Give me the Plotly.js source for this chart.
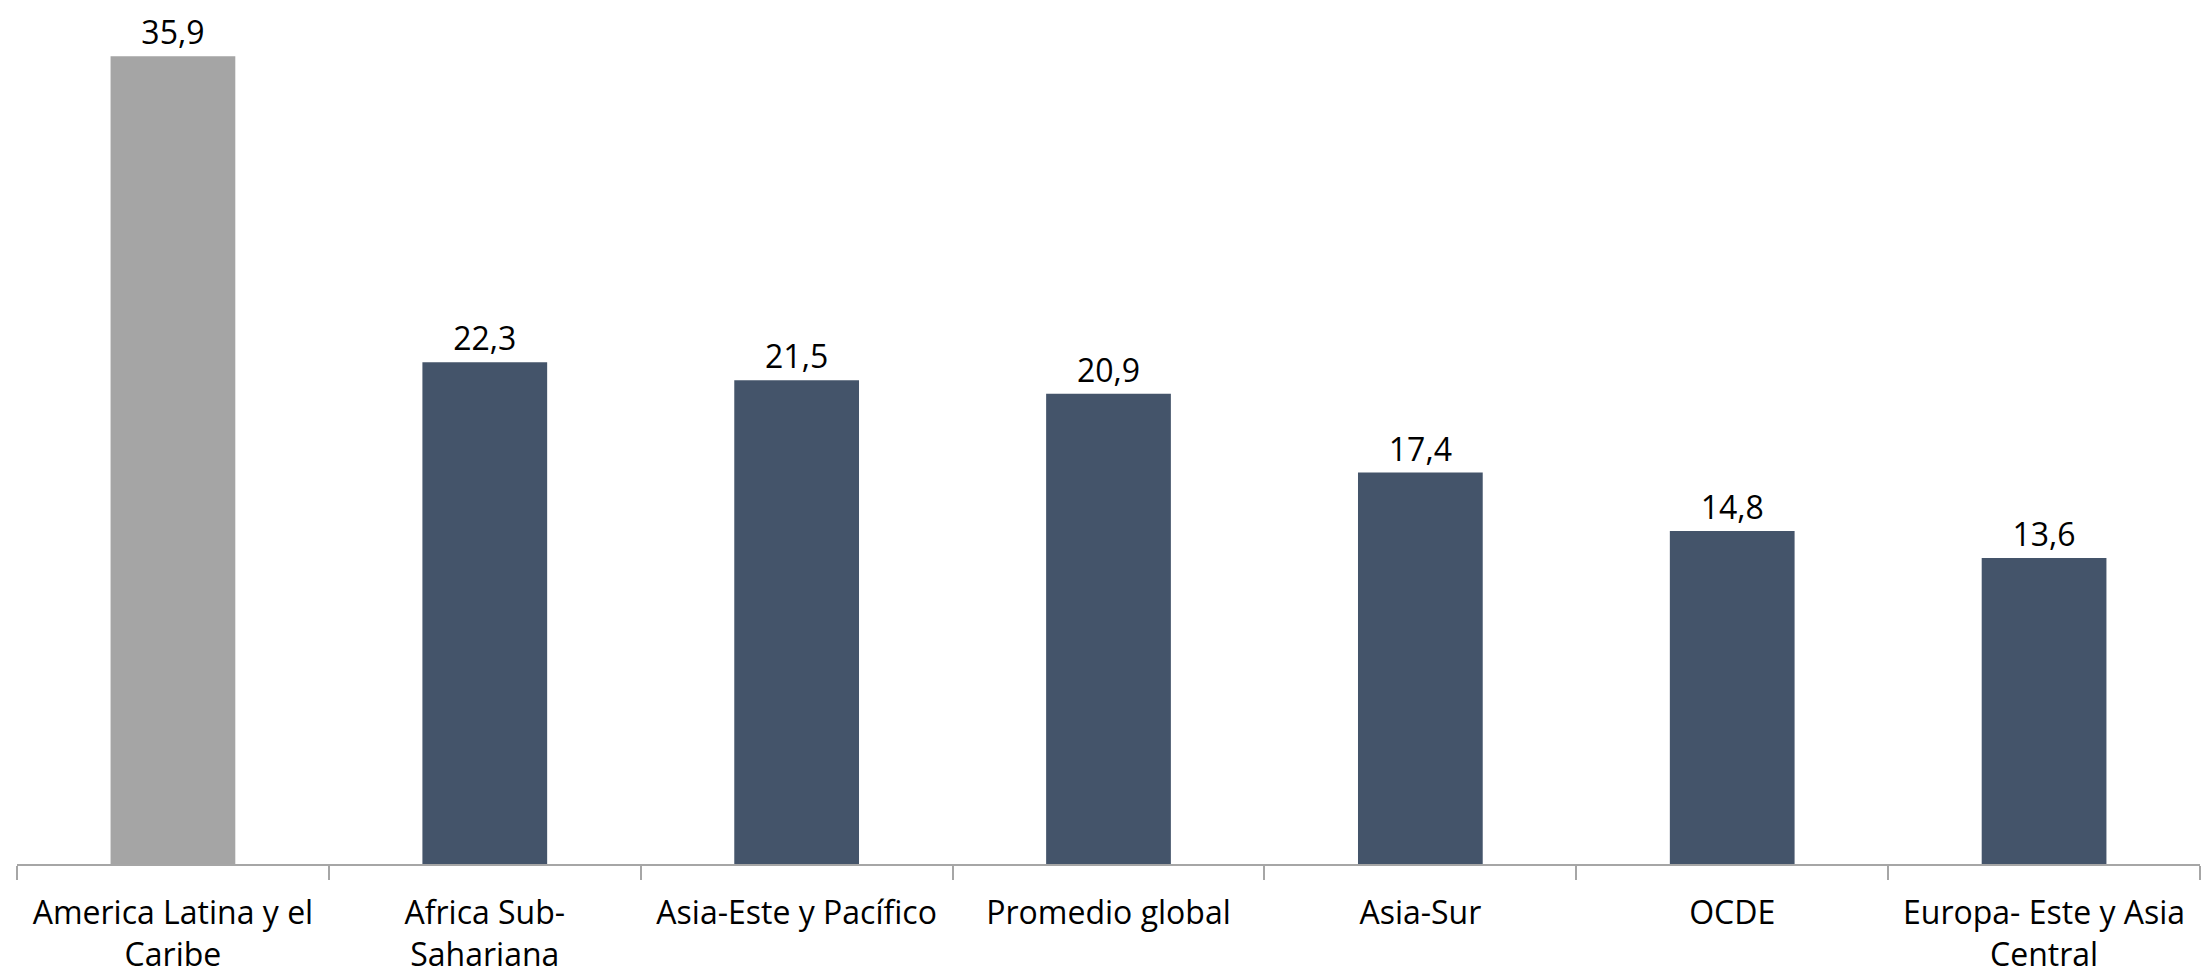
<!DOCTYPE html>
<html>
<head>
<meta charset="utf-8">
<script src="https://cdn.plot.ly/plotly-3.0.1.min.js"></script>
<style>html,body{margin:0;padding:0;background:#fff;}#chart{width:2202px;height:976px;}</style>
</head>
<body>
<div id="chart"></div>
<script>
const categories = ["America Latina y el<br>Caribe", "Africa Sub-<br>Sahariana", "Asia-Este y Pacífico", "Promedio global", "Asia-Sur", "OCDE", "Europa- Este y Asia<br>Central"];
const values = [35.9, 22.3, 21.5, 20.9, 17.4, 14.8, 13.6];
const barColors = ["#A5A5A5", "#44546A", "#44546A", "#44546A", "#44546A", "#44546A", "#44546A"];

const trace = {
  type: "bar",
  x: categories,
  y: values,
  marker: {color: barColors},
  width: 0.4,
  texttemplate: "%{y:.1f}",
  textposition: "outside",
  cliponaxis: false,
  textfont: {family: "Open Sans, sans-serif", size: 32, color: "#000"},
  hoverinfo: "skip"
};

const layout = {
  width: 2202,
  height: 976,
  margin: {l: 17, r: 2, t: 9, b: 112},
  paper_bgcolor: "#fff",
  plot_bgcolor: "#fff",
  separators: ",.",
  showlegend: false,
  bargap: 0.6,
  xaxis: {
    type: "category",
    showline: true,
    linecolor: "#A6A6A6",
    linewidth: 2,
    ticks: "outside",
    tickson: "boundaries",
    ticklen: 14,
    tickcolor: "#A6A6A6",
    tickwidth: 2,
    ticklabelstandoff: 20,
    showgrid: false,
    tickfont: {family: "Open Sans, sans-serif", size: 32, color: "#000"}
  },
  yaxis: {
    range: [0, 38],
    visible: false,
    showgrid: false,
    zeroline: false
  }
};

Plotly.newPlot("chart", [trace], layout, {displayModeBar: false, staticPlot: true});
</script>
</body>
</html>
